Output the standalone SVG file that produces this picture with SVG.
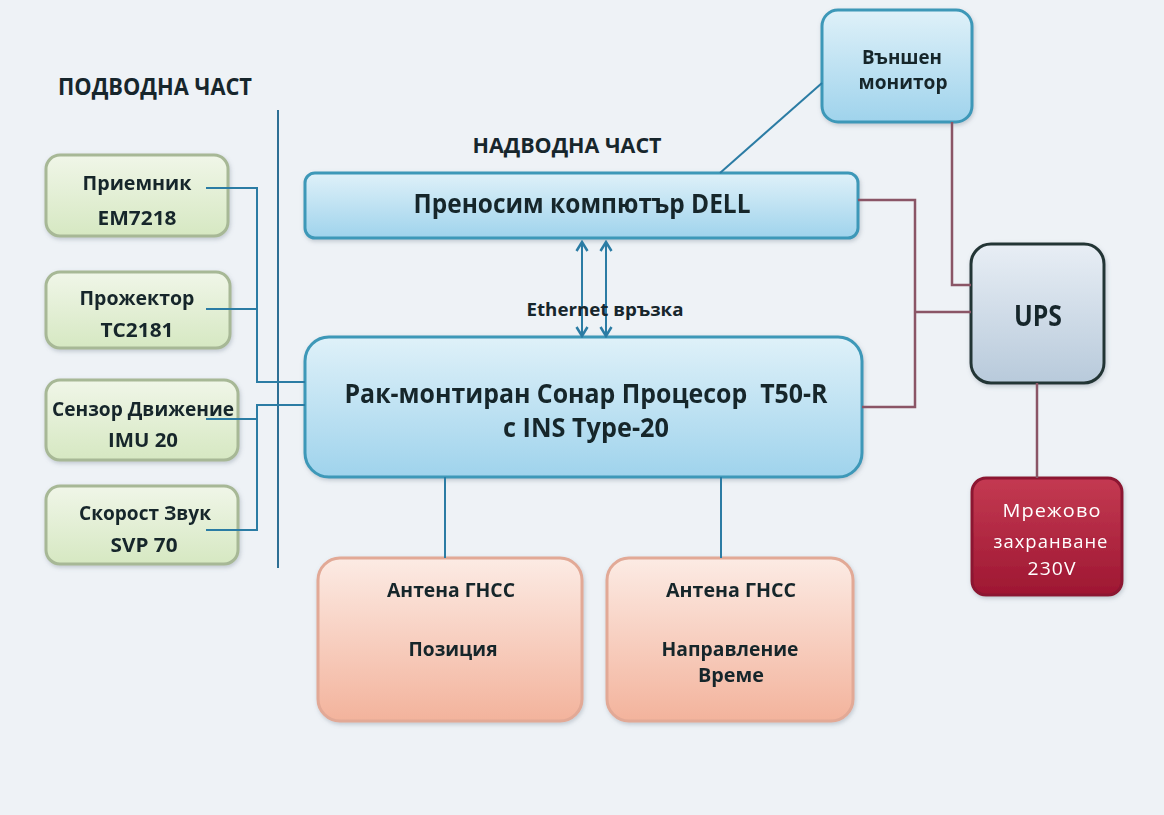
<svg xmlns="http://www.w3.org/2000/svg" width="1164" height="815" viewBox="0 0 1164 815">
<defs>
<linearGradient id="gGreen" x1="0" y1="0" x2="0" y2="1"><stop offset="0" stop-color="#f0f6e8"/><stop offset="1" stop-color="#d6e8c2"/></linearGradient>
<linearGradient id="gBlue" x1="0" y1="0" x2="0" y2="1"><stop offset="0" stop-color="#dff1f9"/><stop offset="1" stop-color="#9fd3ec"/></linearGradient>
<linearGradient id="gUps" x1="0" y1="0" x2="0" y2="1"><stop offset="0" stop-color="#e8eef5"/><stop offset="1" stop-color="#b8cadb"/></linearGradient>
<linearGradient id="gRed" x1="0" y1="0" x2="0" y2="1"><stop offset="0" stop-color="#c43a52"/><stop offset="1" stop-color="#9e1732"/></linearGradient>
<linearGradient id="gPeach" x1="0" y1="0" x2="0" y2="1"><stop offset="0" stop-color="#fcebe4"/><stop offset="1" stop-color="#f3b39c"/></linearGradient>
<filter id="sh" x="-10%" y="-10%" width="120%" height="130%"><feDropShadow dx="1" dy="2" stdDeviation="2" flood-color="#6a7a88" flood-opacity="0.35"/></filter>
<marker id="ah" viewBox="0 0 14 14" refX="12" refY="7" markerWidth="14" markerHeight="14" markerUnits="userSpaceOnUse" orient="auto-start-reverse"><path d="M3,1.5 L12,7 L3,12.5" fill="none" stroke="#2b7ca4" stroke-width="2.5"/></marker>
</defs>
<style>
text{font-family:"Open Sans","Liberation Sans",sans-serif;font-weight:700;fill:#17262c;text-anchor:middle}
.green{fill:url(#gGreen);stroke:#a7b896;stroke-width:3}
.blue{fill:url(#gBlue);stroke:#3d98b8;stroke-width:3}
.ups{fill:url(#gUps);stroke:#243434;stroke-width:3}
.red{fill:url(#gRed);stroke:#8c1730;stroke-width:3}
.peach{fill:url(#gPeach);stroke:#e2a996;stroke-width:3}
.bl{fill:none;stroke:#2b7ca4;stroke-width:2}
.br{fill:none;stroke:#8a5566;stroke-width:2.5}
.wt{fill:#ffffff;font-weight:400;letter-spacing:1px}
</style>
<rect width="1164" height="815" fill="#eef2f6"/>
<text x="155" y="95" font-size="23" textLength="194" lengthAdjust="spacingAndGlyphs">ПОДВОДНА ЧАСТ</text>
<text x="567" y="153" font-size="22" textLength="189" lengthAdjust="spacingAndGlyphs">НАДВОДНА ЧАСТ</text>
<line x1="278" y1="110" x2="278" y2="568" stroke="#2d6f94" stroke-width="2"/>
<g id="n-priemnik" filter="url(#sh)"><rect class="green" x="46" y="155" width="182" height="81" rx="14"/><text x="137" y="190" font-size="20" textLength="109" lengthAdjust="spacingAndGlyphs">Приемник</text><text x="137" y="225" font-size="20" textLength="79" lengthAdjust="spacingAndGlyphs">EM7218</text></g>
<g id="n-prozhektor" filter="url(#sh)"><rect class="green" x="46" y="272" width="184" height="76" rx="14"/><text x="137" y="305" font-size="20" textLength="115" lengthAdjust="spacingAndGlyphs">Прожектор</text><text x="137" y="337" font-size="20" textLength="73" lengthAdjust="spacingAndGlyphs">TC2181</text></g>
<g id="n-senzor" filter="url(#sh)"><rect class="green" x="46" y="380" width="192" height="80" rx="14"/><text x="143" y="416" font-size="20" textLength="182" lengthAdjust="spacingAndGlyphs">Сензор Движение</text><text x="143" y="447" font-size="20" textLength="70" lengthAdjust="spacingAndGlyphs">IMU 20</text></g>
<g id="n-skorost" filter="url(#sh)"><rect class="green" x="46" y="486" width="192" height="78" rx="14"/><text x="145" y="520" font-size="20" textLength="132" lengthAdjust="spacingAndGlyphs">Скорост Звук</text><text x="144" y="552" font-size="20" textLength="67" lengthAdjust="spacingAndGlyphs">SVP 70</text></g>
<g id="n-dell" filter="url(#sh)"><rect class="blue" x="305" y="173" width="553" height="65" rx="10"/><text x="582" y="213" font-size="27" textLength="337" lengthAdjust="spacingAndGlyphs">Преносим компютър DELL</text></g>
<g id="n-sonar" filter="url(#sh)"><rect class="blue" x="305" y="337" width="557" height="140" rx="24"/><text x="586" y="403" font-size="27" textLength="483" lengthAdjust="spacingAndGlyphs" xml:space="preserve">Рак-монтиран Сонар Процесор  T50-R</text><text x="586" y="437" font-size="27" textLength="166" lengthAdjust="spacingAndGlyphs">с INS Type-20</text></g>
<g id="n-monitor" filter="url(#sh)"><rect class="blue" x="822" y="10" width="150" height="112" rx="16"/><text x="902" y="64" font-size="19" textLength="80" lengthAdjust="spacingAndGlyphs">Външен</text><text x="903" y="89" font-size="19" textLength="89" lengthAdjust="spacingAndGlyphs">монитор</text></g>
<g id="n-ups" filter="url(#sh)"><rect class="ups" x="971" y="244" width="133" height="139" rx="20"/><text x="1038" y="326" font-size="29" textLength="48" lengthAdjust="spacingAndGlyphs">UPS</text></g>
<g id="n-power" filter="url(#sh)"><rect class="red" x="972" y="478" width="150" height="117" rx="14"/><text class="wt" x="1052" y="517" font-size="18" textLength="99" lengthAdjust="spacingAndGlyphs">Мрежово</text><text class="wt" x="1051" y="548" font-size="18" textLength="115" lengthAdjust="spacingAndGlyphs">захранване</text><text class="wt" x="1052" y="575" font-size="18" textLength="49" lengthAdjust="spacingAndGlyphs">230V</text></g>
<g id="n-gnss1" filter="url(#sh)"><rect class="peach" x="318" y="558" width="264" height="163" rx="22"/><text x="451" y="597" font-size="19" textLength="128" lengthAdjust="spacingAndGlyphs">Антена ГНСС</text><text x="453" y="656" font-size="19" textLength="89" lengthAdjust="spacingAndGlyphs">Позиция</text></g>
<g id="n-gnss2" filter="url(#sh)"><rect class="peach" x="607" y="558" width="246" height="163" rx="22"/><text x="731" y="597" font-size="19" textLength="130" lengthAdjust="spacingAndGlyphs">Антена ГНСС</text><text x="730" y="656" font-size="19" textLength="137" lengthAdjust="spacingAndGlyphs">Направление</text><text x="731" y="682" font-size="19" textLength="66" lengthAdjust="spacingAndGlyphs">Време</text></g>
<g id="connectors">
<path class="bl" d="M206 188 H257 V382 H305"/>
<path class="bl" d="M206 309 H257"/>
<path class="bl" d="M305 405 H257 V530 H206"/>
<path class="bl" d="M206 419 H257"/>
<path class="bl" d="M445 477 V558"/>
<path class="bl" d="M721 477 V558"/>
<path class="bl" d="M720 173 L822 83"/>
<path class="bl" stroke-width="2.5" d="M582 242 V336" marker-start="url(#ah)" marker-end="url(#ah)"/>
<path class="bl" stroke-width="2.5" d="M606 242 V336" marker-start="url(#ah)" marker-end="url(#ah)"/>
<path class="br" d="M858 200 H915 V407 H862"/>
<path class="br" stroke-width="4" d="M915 312 H971"/>
<path class="br" d="M952 122 V285 H971"/>
<path class="br" d="M1037 383 V478"/>
<text x="605" y="316" font-size="17" textLength="157" lengthAdjust="spacingAndGlyphs">Ethernet връзка</text>
</g>
</svg>
